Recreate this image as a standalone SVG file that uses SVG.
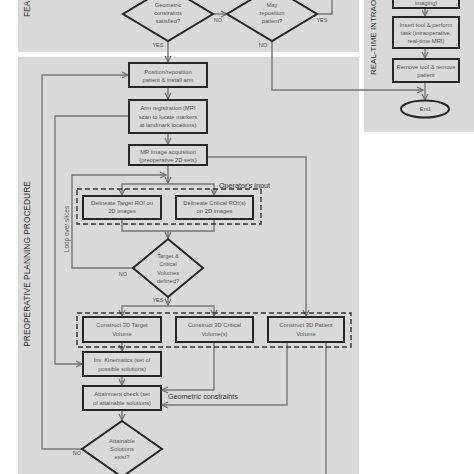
<svg xmlns="http://www.w3.org/2000/svg" width="474" height="474" viewBox="0 0 474 474">
<defs>
<style>
.panel{fill:#d9d9d9}
.box{fill:#d9d9d9;stroke:#262626;stroke-width:2}
.dash{fill:none;stroke:#333;stroke-width:1.4;stroke-dasharray:5,3}
.c{fill:none;stroke:#777;stroke-width:1.4}
.t{font-family:"Liberation Sans",Arial,sans-serif;font-size:5.8px;fill:#555;text-anchor:middle}
.s{font-family:"Liberation Sans",Arial,sans-serif;font-size:5.6px;fill:#555;text-anchor:middle}
.lab{font-family:"Liberation Sans",Arial,sans-serif;font-size:7.2px;fill:#333}
.side{font-family:"Liberation Sans",Arial,sans-serif;font-size:8.4px;fill:#333}
</style>
<marker id="ah" viewBox="0 0 8 8" refX="7" refY="4" markerWidth="8" markerHeight="8" markerUnits="userSpaceOnUse" orient="auto">
<path d="M1,1 L7,4 L1,7" fill="none" stroke="#6f6f6f" stroke-width="1.2"/>
</marker>
</defs>
<rect width="474" height="474" fill="#fff"/>
<rect class="panel" x="18" y="0" width="341" height="52"/>
<rect class="panel" x="18" y="57" width="341" height="417"/>
<rect class="panel" x="364" y="0" width="110" height="132"/>
<text class="side" transform="translate(30,17) rotate(-90)">FEA</text>
<text class="side" transform="translate(30,264) rotate(-90)" text-anchor="middle">PREOPERATIVE PLANNING PROCEDURE</text>
<text class="side" transform="translate(376,75) rotate(-90)" style="font-size:8px">REAL-TIME INTRAO</text>

<g id="connectors">
<path class="c" d="M213,14 H227" marker-end="url(#ah)"/>
<path class="c" d="M317,14 H332 V-5"/>
<path class="c" d="M272,41 V90 H423" marker-end="url(#ah)"/>
<path class="c" d="M168,41 V62" marker-end="url(#ah)"/>
<path class="c" d="M168,87 V99" marker-end="url(#ah)"/>
<path class="c" d="M168,133 V144" marker-end="url(#ah)"/>
<path class="c" d="M207,157 H306 V316" marker-end="url(#ah)"/>
<path class="c" d="M168,165 V183" marker-end="url(#ah)"/>
<path class="c" d="M168,184 H122 V195" marker-end="url(#ah)"/>
<path class="c" d="M168,184 H214 V195" marker-end="url(#ah)"/>
<path class="c" d="M133,268 H72 V175 H166" marker-end="url(#ah)"/>
<path class="c" d="M122,219 V231 H214 V219"/>
<path class="c" d="M168,231 V238" marker-end="url(#ah)"/>
<path class="c" d="M168,297 V305" marker-end="url(#ah)"/>
<path class="c" d="M168,306 H122 V316" marker-end="url(#ah)"/>
<path class="c" d="M168,306 H214 V316" marker-end="url(#ah)"/>
<path class="c" d="M122,342 V351" marker-end="url(#ah)"/>
<path class="c" d="M122,376 V385" marker-end="url(#ah)"/>
<path class="c" d="M214,342 V390 H162" marker-end="url(#ah)"/>
<path class="c" d="M287,342 V405 H162" marker-end="url(#ah)"/>
<path class="c" d="M326,342 V480"/>
<path class="c" d="M122,410 V420" marker-end="url(#ah)"/>
<path class="c" d="M82,449 H42 V75 H128" marker-end="url(#ah)"/>
<path class="c" d="M129,116 H55 V364 H82" marker-end="url(#ah)"/>
<path class="c" d="M425,8 V16" marker-end="url(#ah)"/>
<path class="c" d="M425,48 V58" marker-end="url(#ah)"/>
<path class="c" d="M425,82 V100" marker-end="url(#ah)"/>
</g>

<g id="labels">
<text class="s" x="218" y="22">NO</text>
<text class="s" x="322" y="22">YES</text>
<text class="s" x="263" y="47">NO</text>
<text class="s" x="158" y="47">YES</text>
<text class="s" x="123" y="276">NO</text>
<text class="s" x="158" y="302">YES</text>
<text class="s" x="77" y="455">NO</text>
<text class="lab" x="219" y="188">Operator's input</text>
<text class="lab" x="168" y="399">Geometric constraints</text>
<text class="s" transform="translate(69,229) rotate(-90)" style="font-size:6.4px">Loop over slices</text>
</g>

<g id="geo-diamond">
<polygon class="box" points="168,-13 213,14 168,41 123,14"/>
<text class="t" x="168" y="7">Geometric</text>
<text class="t" x="168" y="15">constraints</text>
<text class="t" x="168" y="23">satisfied?</text>
</g>
<g id="may-diamond">
<polygon class="box" points="272,-13 317,14 272,41 227,14"/>
<text class="t" x="272" y="7">May</text>
<text class="t" x="272" y="15">reposition</text>
<text class="t" x="272" y="23">patient?</text>
</g>

<g id="position">
<rect class="box" x="129" y="63" width="78" height="24"/>
<text class="t" x="168" y="74">Position/reposition</text>
<text class="t" x="168" y="82">patient &amp; install arm</text>
</g>
<g id="arm">
<rect class="box" x="129" y="100" width="78" height="33"/>
<text class="t" x="168" y="110">Arm registration (MRI</text>
<text class="t" x="168" y="118.5">scan to locate markers</text>
<text class="t" x="168" y="127">at landmark locations)</text>
</g>
<g id="mr">
<rect class="box" x="129" y="145" width="78" height="20"/>
<text class="t" x="168" y="154">MR Image acquisition</text>
<text class="t" x="168" y="162">(preoperative 2D sets)</text>
</g>
<g id="operator-input">
<rect class="dash" x="77" y="189" width="184" height="35"/>
</g>
<g id="del-target">
<rect class="box" x="83" y="196" width="78" height="23"/>
<text class="t" x="122" y="205">Delineate Target ROI on</text>
<text class="t" x="122" y="213">2D images</text>
</g>
<g id="del-critical">
<rect class="box" x="176" y="196" width="77" height="23"/>
<text class="t" x="214.5" y="205">Delineate Critical ROI(s)</text>
<text class="t" x="214.5" y="213">on 2D images</text>
</g>
<g id="tc-diamond">
<polygon class="box" points="168,239 203,268 168,297 133,268"/>
<text class="t" x="168" y="258">Target &amp;</text>
<text class="t" x="168" y="266">Critical</text>
<text class="t" x="168" y="275">Volumes</text>
<text class="t" x="168" y="283">defined?</text>
</g>
<g id="construct-group">
<rect class="dash" x="77" y="313" width="274" height="34"/>
</g>
<g id="c3d-target">
<rect class="box" x="83" y="317" width="78" height="25"/>
<text class="t" x="122" y="327">Construct 3D Target</text>
<text class="t" x="122" y="336">Volume</text>
</g>
<g id="c3d-critical">
<rect class="box" x="176" y="317" width="77" height="25"/>
<text class="t" x="214.5" y="327">Construct 3D Critical</text>
<text class="t" x="214.5" y="336">Volume(s)</text>
</g>
<g id="c3d-patient">
<rect class="box" x="268" y="317" width="76" height="25"/>
<text class="t" x="306" y="327">Construct 3D Patient</text>
<text class="t" x="306" y="336">Volume</text>
</g>
<g id="invkin">
<rect class="box" x="83" y="352" width="78" height="24"/>
<text class="t" x="122" y="362">Inv. Kinematics (set of</text>
<text class="t" x="122" y="371">possible solutions)</text>
</g>
<g id="attain">
<rect class="box" x="83" y="386" width="78" height="24"/>
<text class="t" x="122" y="396">Attainment check (set</text>
<text class="t" x="122" y="405">of attainable solutions)</text>
</g>
<g id="attain-diamond">
<polygon class="box" points="122,421 162,449 122,477 82,449"/>
<text class="t" x="122" y="443">Attainable</text>
<text class="t" x="122" y="451">Solutions</text>
<text class="t" x="122" y="459">exist?</text>
</g>

<g id="imaging">
<rect class="box" x="393" y="-20" width="66" height="28"/>
<text class="t" x="426" y="5">imaging)</text>
</g>
<g id="insert">
<rect class="box" x="393" y="17" width="66" height="31"/>
<text class="t" x="426" y="27">Insert tool &amp; perform</text>
<text class="t" x="426" y="35">task (intraoperative,</text>
<text class="t" x="426" y="43">real-time MRI)</text>
</g>
<g id="remove">
<rect class="box" x="393" y="59" width="66" height="23"/>
<text class="t" x="426" y="69">Remove tool &amp; remove</text>
<text class="t" x="426" y="77">patient</text>
</g>
<g id="end">
<ellipse class="box" cx="425" cy="109" rx="24" ry="8.5"/>
<text class="t" x="425" y="111">End</text>
</g>
</svg>
